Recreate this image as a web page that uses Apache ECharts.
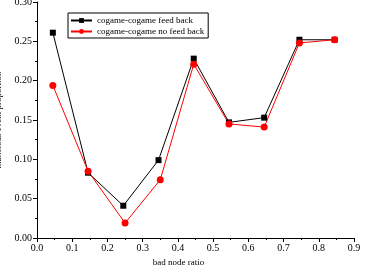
<!DOCTYPE html>
<html>
<head>
<meta charset="utf-8">
<script src="https://cdn.jsdelivr.net/npm/echarts@6/dist/echarts.min.js"></script>
<style>
    html, body { margin: 0; padding: 0; background: #fff; }
    #box1 { width: 366px; height: 270px; }
</style>
</head>
<body>
<div id="box1"></div>
<script>
// 数据
var ratioFeed = [0.045, 0.145, 0.245, 0.345, 0.445, 0.545, 0.645, 0.745, 0.845]
var valueFeed = [0.261, 0.083, 0.041, 0.099, 0.228, 0.147, 0.153, 0.252, 0.252]
var ratioNoFeed = [0.045, 0.145, 0.25, 0.35, 0.445, 0.545, 0.645, 0.745, 0.845]
var valueNoFeed = [0.194, 0.085, 0.019, 0.074, 0.221, 0.145, 0.141, 0.248, 0.252]

function pairs(xs, ys) {
    return xs.map(function (x, i) { return [x, ys[i]] })
}

var font = "Liberation Serif"

var MyEcharts1 = echarts.init(document.getElementById("box1"))

var option1 = {
    animation: false,
    textStyle: { fontFamily: font, color: "#000" },

    // 网格区域
    grid: { left: 37, right: 12, top: 2, bottom: 32, containLabel: false, outerBoundsMode: "none" },

    // 图例
    legend: {
        left: 68,
        top: 13,
        orient: "vertical",
        itemWidth: 21,
        itemHeight: 6,
        itemGap: 2,
        padding: [3, 4, 2, 2],
        borderColor: "#000",
        borderWidth: 1,
        textStyle: { fontFamily: font, fontSize: 9, color: "#000" },
        data: ["cogame-cogame feed back", "cogame-cogame no feed back"]
    },

    xAxis: {
        type: "value",
        min: 0,
        max: 0.9,
        interval: 0.1,
        name: "bad node ratio",
        nameLocation: "middle",
        nameGap: 19,
        nameTextStyle: { fontFamily: font, fontSize: 9, color: "#000", padding: [0, 34, 0, 0] },
        axisLine: { show: true, lineStyle: { color: "#000", width: 1 } },
        axisTick: { show: true, length: 4, lineStyle: { color: "#000" } },
        minorTick: { show: true, splitNumber: 2, length: 2, lineStyle: { color: "#000" } },
        axisLabel: {
            fontFamily: font, fontSize: 10, color: "#000", margin: 5,
            formatter: function (v) { return v.toFixed(1) }
        },
        splitLine: { show: false }
    },

    yAxis: {
        type: "value",
        min: 0,
        max: 0.3,
        interval: 0.05,
        name: "malicious event proportion",
        nameLocation: "middle",
        nameGap: 25,
        nameTextStyle: { fontFamily: font, fontSize: 9, color: "#000" },
        axisLine: { show: true, lineStyle: { color: "#000", width: 1 } },
        axisTick: { show: true, length: 4, lineStyle: { color: "#000" } },
        minorTick: { show: true, splitNumber: 2, length: 2, lineStyle: { color: "#000" } },
        axisLabel: {
            fontFamily: font, fontSize: 10, color: "#000", margin: 5,
            formatter: function (v) { return v.toFixed(2) }
        },
        splitLine: { show: false }
    },

    series: [
        {
            name: "cogame-cogame feed back",
            type: "line",
            data: pairs(ratioFeed, valueFeed),
            symbol: "rect",
            symbolSize: 6,
            itemStyle: { color: "#000" },
            lineStyle: { color: "#000", width: 1 }
        },
        {
            name: "cogame-cogame no feed back",
            type: "line",
            data: pairs(ratioNoFeed, valueNoFeed),
            symbol: "circle",
            symbolSize: 7,
            itemStyle: { color: "#ff0000" },
            lineStyle: { color: "#ff0000", width: 1 }
        }
    ]
}

MyEcharts1.setOption(option1)
</script>
</body>
</html>
